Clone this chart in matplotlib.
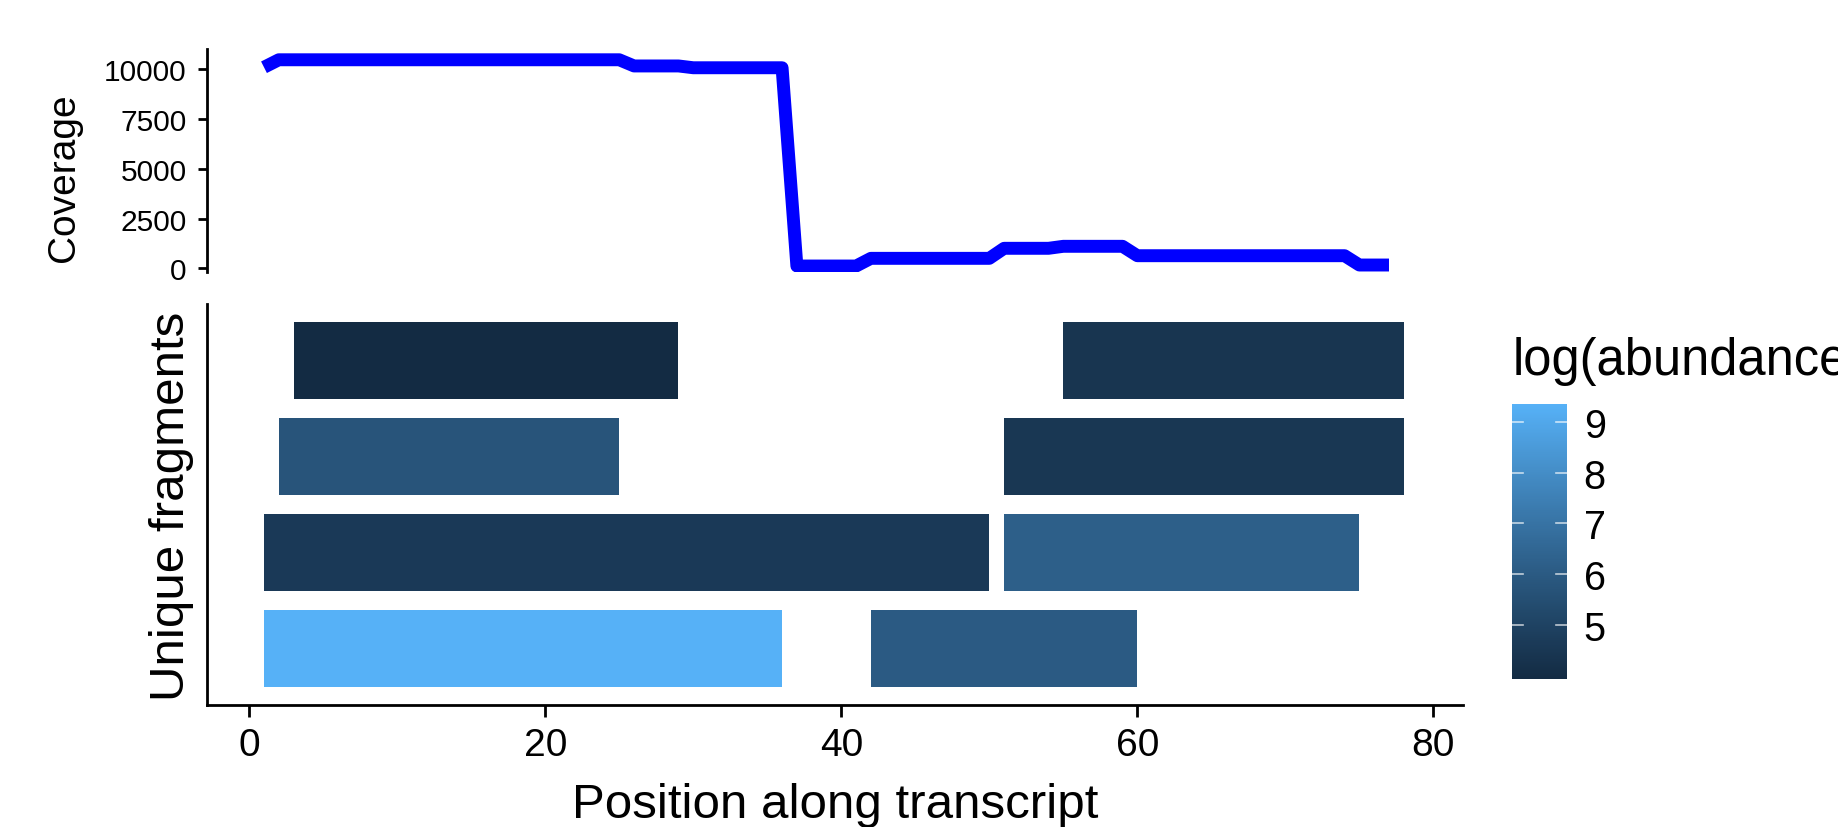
import numpy as np
import matplotlib
matplotlib.use("Agg")
import matplotlib.pyplot as plt
import matplotlib.colors as mcolors
from matplotlib.cm import ScalarMappable

plt.rcParams['font.family'] = ['Liberation Sans', 'DejaVu Sans']

# coverage along the transcript (vertices of the step line)
cov_pos = [1, 2, 25, 26, 29, 30, 36, 37, 41, 42, 50, 51, 54, 55, 59, 60, 74, 75, 77]
cov_val = [10085, 10460, 10460, 10150, 10150, 10060, 10060, 120, 120, 505, 505,
           1008, 1008, 1108, 1108, 637, 637, 170, 170]

# unique fragments: row, start, end, log(abundance)
frag_row = [1, 1, 2, 2, 3, 3, 4, 4]
frag_start = [1, 42, 1, 51, 2, 51, 3, 55]
frag_end = [36, 60, 50, 75, 25, 78, 29, 78]
frag_logab = [9.35, 6.0, 4.6, 6.2, 5.75, 4.5, 3.94, 4.4]

cbar_ticks = [5, 6, 7, 8, 9]
cov_ticks = [0, 2500, 5000, 7500, 10000]
pos_ticks = [0, 20, 40, 60, 80]


# ggplot-like gradient, interpolated in Lab space
M = np.array([[0.4124, 0.3576, 0.1805], [0.2126, 0.7152, 0.0722], [0.0193, 0.1192, 0.9505]])
WHITE = np.array([0.95047, 1.0, 1.08883])


def hex_to_lab(h):
    rgb = np.array(mcolors.to_rgb(h))
    lin = np.where(rgb <= 0.04045, rgb / 12.92, ((rgb + 0.055) / 1.055) ** 2.4)
    xyz = M @ lin / WHITE
    f = np.where(xyz > 0.008856, np.cbrt(xyz), 7.787 * xyz + 16 / 116)
    return np.array([116 * f[1] - 16, 500 * (f[0] - f[1]), 200 * (f[1] - f[2])])


def lab_to_rgb(lab):
    fy = (lab[0] + 16) / 116
    f = np.array([fy + lab[1] / 500, fy, fy - lab[2] / 200])
    xyz = np.where(f ** 3 > 0.008856, f ** 3, (f - 16 / 116) / 7.787) * WHITE
    lin = np.linalg.inv(M) @ xyz
    lin = np.clip(lin, 0, 1)
    rgb = np.where(lin <= 0.0031308, 12.92 * lin, 1.055 * lin ** (1 / 2.4) - 0.055)
    return np.clip(rgb, 0, 1)


lo, hi = hex_to_lab('#132B43'), hex_to_lab('#56B1F7')
cmap = mcolors.ListedColormap([lab_to_rgb(lo + t * (hi - lo)) for t in np.linspace(0, 1, 256)])
norm = mcolors.Normalize(min(frag_logab), max(frag_logab))

W, H = 1838, 828
fig = plt.figure(figsize=(W / 100, H / 100), dpi=100)


def box(l, t, r, b):
    return [l / W, 1 - b / H, (r - l) / W, (b - t) / H]


xlim = (-2.85, 82.0)

# top: coverage line
ax1 = fig.add_axes(box(207, 50, 1463, 273))
ax1.plot(cov_pos, cov_val, color='#0000FF', lw=9.3, solid_capstyle='butt', solid_joinstyle='round')
ax1.set_xlim(xlim)
ax1.set_ylim(-180, 11000)
ax1.set_yticks(cov_ticks)
ax1.set_yticklabels([str(v) for v in cov_ticks])
ax1.set_xticks([])
for s in ['top', 'right', 'bottom']:
    ax1.spines[s].set_visible(False)
ax1.spines['left'].set_linewidth(2.0)
ax1.tick_params(axis='y', length=6.5, width=2.0, labelsize=21.5, pad=8)
fig.text(64 / W, 1 - 178 / H, 'Coverage', rotation=90, fontsize=28, ha='center', va='center')

# bottom: fragments as horizontal bars
ax2 = fig.add_axes(box(207, 305, 1463, 706))
widths = [e - s for s, e in zip(frag_start, frag_end)]
ax2.barh(frag_row, widths, left=frag_start, height=0.8, color=cmap(norm(frag_logab)))
ax2.set_xlim(xlim)
ax2.set_ylim(0.41, 4.59)
ax2.set_yticks([])
ax2.set_xticks(pos_ticks)
for s in ['top', 'right']:
    ax2.spines[s].set_visible(False)
for s in ['left', 'bottom']:
    ax2.spines[s].set_linewidth(2.0)
ax2.tick_params(axis='x', length=8.5, width=2.0, labelsize=28, pad=7)
fig.text(171 / W, 1 - 506 / H, 'Unique fragments', rotation=90, fontsize=35.5, ha='center', va='center')
fig.text(835 / W, 1 - 818 / H, 'Position along transcript', fontsize=35.5, ha='center', va='baseline')

# colour bar
cax = fig.add_axes(box(1512, 405, 1567, 680))
cb = fig.colorbar(ScalarMappable(norm=norm, cmap=cmap), cax=cax)
cb.outline.set_visible(False)
cb.set_ticks(cbar_ticks)
cax.tick_params(length=0, labelsize=28.5, pad=12)
for t in cbar_ticks:
    cax.axhline(t, xmin=0, xmax=0.2, color='white', lw=1.2, alpha=0.7)
    cax.axhline(t, xmin=0.8, xmax=1, color='white', lw=1.2, alpha=0.7)
fig.text(1513 / W, 1 - 375 / H, 'log(abundance)', fontsize=36.5, ha='left', va='baseline')

fig.savefig('out.png', dpi=100)
